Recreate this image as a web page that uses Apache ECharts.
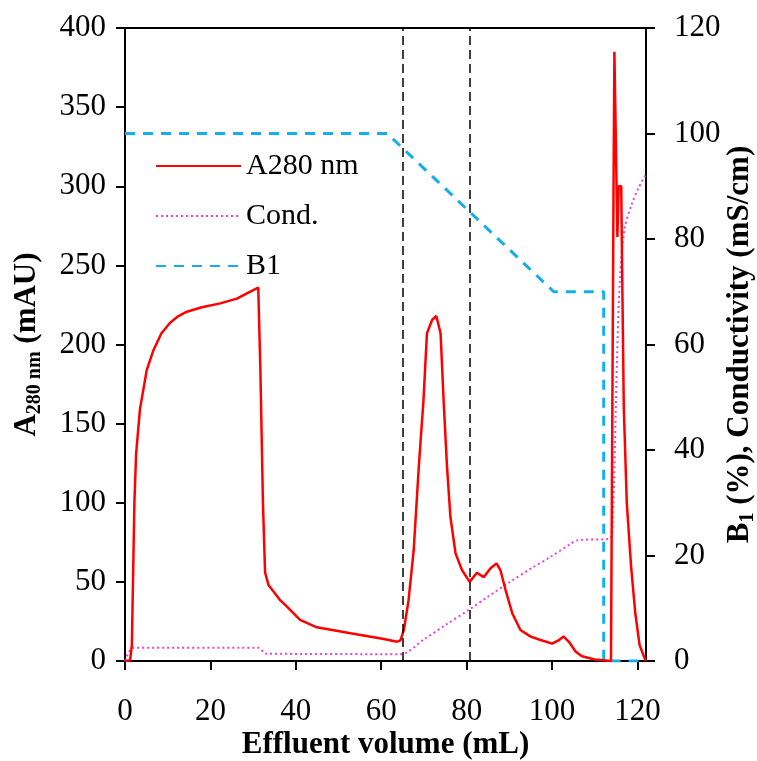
<!DOCTYPE html>
<html>
<head>
<meta charset="utf-8">
<script src="https://cdn.jsdelivr.net/npm/echarts@6/dist/echarts.min.js"></script>
<style>
html,body{margin:0;padding:0;background:#fff;}
#chart{width:757px;height:761px;}
</style>
</head>
<body>
<div id="chart"></div>
<script>
// ---- data ----
const a280Vol = [0,1.2,1.6,2.2,2.6,3.5,5.1,6.6,8.5,10.5,12.5,14.5,18,22.3,26.2,29,31.2,31.7,32.3,32.8,33.6,36.3,37.1,41,44.9,52.8,60.6,63.7,64.5,65.3,66.4,67.6,68.8,69.9,70.7,71.9,72.9,73.9,74.6,75.4,76.2,77.4,78.9,80.7,82.4,84,85.6,87,87.9,89.1,90.7,92.6,95,97.3,100,101.5,102.7,104,105.5,107,110,112,113.8,114.4,114.6,115.0,115.3,115.6,116.2,116.4,116.8,117.5,118.5,119.5,120.5,121.5,122];
const a280Val = [0,0.5,10,100,131,159,184,196,207,213.6,218,220.7,223.5,226,229,233,236,184,100,56,48,38.5,36.6,26,21.3,17.5,13.9,12.2,13,19.6,38.5,70,123,165,207,215.5,218,207,165,123,91,68,57.5,50,55.8,53,58.6,61.7,57.5,45,30,19.6,15.4,13.3,11,13,15.5,12,6,3,1,0.5,0,300,385,385,268,300,300,250,160,100,60,30,10,3,0];

const condVol = [0,2,31.2,33,64.5,70,75,80.7,85,90,95,99.6,104.3,106,113.5,114.2,115.2,115.9,117,118.6,120.2,122];
const condVal = [0,2.5,2.5,1.4,1.3,4.1,6.8,9.8,12.2,14.9,17.5,19.7,22.2,22.9,23.2,26,57,72.6,82,86.5,89.6,92.3];

const b1Vol = [0,61.4,100.4,112.1,112.1,122];
const b1Val = [100,100,70,70,0,0];

const markerVol = [65, 80.7];

const xTicks = [0,20,40,60,80,100,120];
const leftMin = 0, leftMax = 400, leftStep = 50;
const rightMin = 0, rightMax = 120, rightStep = 20;

const seriesNames = ['A280 nm', 'Cond.', 'B1'];

function pairs(xs, ys){ return xs.map((x,i)=>[x, ys[i]]); }

const FONT = 'Liberation Serif';
const FS = 31;
const chart = echarts.init(document.getElementById('chart'), null, {renderer:'canvas'});

chart.setOption({
  animation: false,
  backgroundColor: '#fff',
  textStyle: {fontFamily: FONT, color: '#000'},
  grid: {left:125, right:111, top:28, bottom:100, containLabel:false, outerBoundsMode:'none',
         show:true, borderColor:'#000', borderWidth:2, backgroundColor:'transparent'},
  legend: {
    data: seriesNames,
    orient: 'vertical',
    left: 150, top: 146,
    itemWidth: 85, itemHeight: 14, itemGap: 20,
    itemStyle: {opacity: 0},
    textStyle: {fontFamily: FONT, fontSize: 30, lineHeight: 30, color:'#000', padding:[0,0,0,0]}
  },
  xAxis: {
    type: 'value', min: 0, max: 122,
    name: 'Effluent volume (mL)', nameLocation: 'middle', nameGap: 68, nameMoveOverlap: false,
    nameTextStyle: {fontFamily: FONT, fontSize: FS, fontWeight: 'bold', color:'#000'},
    axisLine: {show:true, onZero:false, lineStyle:{color:'#000', width:2}},
    axisTick: {show:true, inside:false, length:9, lineStyle:{color:'#000', width:2}, customValues: xTicks},
    axisLabel: {fontFamily: FONT, fontSize: FS, color:'#000', margin: 35, customValues: xTicks},
    splitLine: {show:false}
  },
  yAxis: [
    {
      type:'value', min:leftMin, max:leftMax, interval:leftStep, position:'left',
      name: '{m|A}{s|280 nm}{m| (mAU)}', nameLocation:'middle', nameGap: 80, nameRotate: 90, nameMoveOverlap: false,
      nameTextStyle: {rich:{
        m:{fontFamily:FONT, fontSize:FS, fontWeight:'bold', color:'#000'},
        s:{fontFamily:FONT, fontSize:20, fontWeight:'bold', color:'#000', padding:[16,0,0,0]}
      }},
      axisLine:{show:true, lineStyle:{color:'#000', width:2}},
      axisTick:{show:true, length:9, lineStyle:{color:'#000', width:2}},
      axisLabel:{fontFamily:FONT, fontSize:FS, color:'#000', margin:19},
      splitLine:{show:false}
    },
    {
      type:'value', min:rightMin, max:rightMax, interval:rightStep, position:'right',
      name: '{m|B}{s|1}{m| (%), Conductivity (mS/cm)}', nameLocation:'middle', nameGap: 76, nameRotate: 90, nameMoveOverlap: false,
      nameTextStyle: {rich:{
        m:{fontFamily:FONT, fontSize:FS, fontWeight:'bold', color:'#000'},
        s:{fontFamily:FONT, fontSize:20, fontWeight:'bold', color:'#000', padding:[16,0,0,0]}
      }},
      axisLine:{show:true, lineStyle:{color:'#000', width:2}},
      axisTick:{show:true, length:9, lineStyle:{color:'#000', width:2}},
      axisLabel:{fontFamily:FONT, fontSize:FS, color:'#000', margin:28},
      splitLine:{show:false}
    }
  ],
  series: [
    {
      name: 'B1', type:'line', yAxisIndex:1, data: pairs(b1Vol, b1Val),
      showSymbol:false, symbol:'none',
      lineStyle:{color:'#15AEEA', width:3, type:[10,8]},
      itemStyle:{color:'#15AEEA'}, z:2
    },
    {
      name: 'Cond.', type:'line', yAxisIndex:1, data: pairs(condVol, condVal),
      showSymbol:false, symbol:'none', smooth:0.3,
      lineStyle:{color:'#F040D8', width:2, type:[2,3]},
      itemStyle:{color:'#F040D8'}, z:3
    },
    {
      name: 'A280 nm', type:'line', yAxisIndex:0, data: pairs(a280Vol, a280Val),
      showSymbol:false, symbol:'none',
      lineStyle:{color:'#FF0000', width:2.5},
      itemStyle:{color:'#FF0000'}, z:4,
      markLine:{
        silent:true, symbol:['none','none'], label:{show:false},
        lineStyle:{color:'#000', width:1.5, type:[9,5]},
        data: markerVol.map(v=>({xAxis:v}))
      }
    }
  ]
});
</script>
</body>
</html>
